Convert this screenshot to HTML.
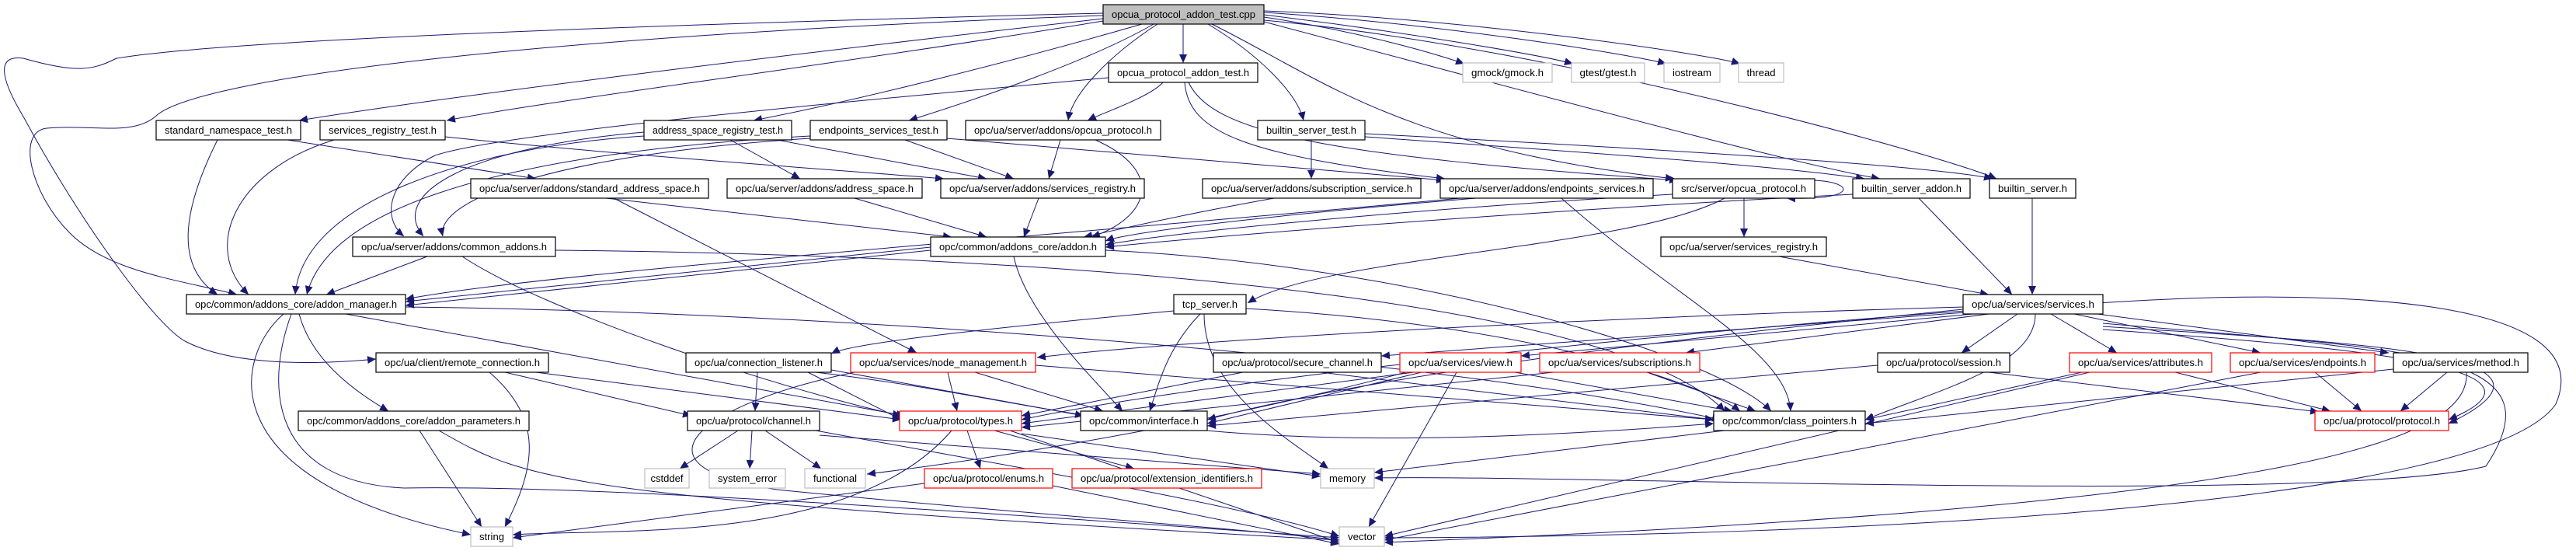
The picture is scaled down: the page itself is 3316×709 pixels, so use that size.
<!DOCTYPE html>
<html><head><meta charset="utf-8"><style>
html,body{margin:0;padding:0;background:#fff;}
svg{display:block}
text{font-family:"Liberation Sans",sans-serif;font-size:13px;fill:#000}
</style></head><body>
<svg width="3316" height="709" viewBox="0 0 3316 709" xmlns="http://www.w3.org/2000/svg">
<defs>
<marker id="a" markerUnits="userSpaceOnUse" markerWidth="12" markerHeight="10" refX="11" refY="5" orient="auto">
<path d="M0,0 L11,5 L0,10 z" fill="#191970"/>
</marker>
</defs>
<g fill="none" stroke="#191970" stroke-width="1" marker-end="url(#a)">
<path d="M1523,31 L1523,81"/>
<path d="M1627,22 C1750,40 1850,70 1885,82"/>
<path d="M1627,19 C1800,40 1980,70 2025,82"/>
<path d="M1627,16 C1850,30 2100,70 2145,82"/>
<path d="M1627,14 C1900,25 2200,70 2240,82"/>
<path d="M1627,28 C1900,100 2300,210 2420,230"/>
<path d="M1560,31 C1700,100 1800,190 2155,230"/>
<path d="M1555,31 C1620,70 1670,120 1678,155"/>
<path d="M1627,26 C2000,60 2500,200 2570,230"/>
<path d="M1490,31 C1430,70 1380,120 1375,155"/>
<path d="M1485,31 C1400,80 1250,130 1170,155"/>
<path d="M1470,31 C1300,80 1100,130 970,155"/>
<path d="M1420,27 C1100,80 700,130 575,155"/>
<path d="M1420,24 C1100,60 600,120 385,155"/>
<path d="M1420,17 C900,30 300,50 150,75 C120,90 100,95 30,75 C-5,70 0,100 30,150 C100,280 200,420 240,440 C300,470 400,470 484,462"/>
<path d="M1420,20 C700,45 250,100 200,150 C170,175 120,160 60,165 C20,170 40,250 90,300 C140,350 230,360 305,379"/>
<path d="M1497,106 C1480,125 1420,145 1400,155"/>
<path d="M1427,100 C1100,130 650,170 560,200 C500,230 490,280 520,304"/>
<path d="M1525,106 C1530,170 1600,200 1860,230"/>
<path d="M1530,106 C1560,170 1700,200 2160,232"/>
<path d="M280,180 C240,260 220,340 280,379"/>
<path d="M370,180 C500,200 620,220 690,230"/>
<path d="M430,180 C300,220 260,320 320,379"/>
<path d="M573,176 C800,200 1100,220 1215,230"/>
<path d="M940,180 L1030,230"/>
<path d="M1000,180 L1270,230"/>
<path d="M829,170 C600,190 500,250 545,304"/>
<path d="M829,175 C600,190 390,260 380,379"/>
<path d="M1165,180 L1305,230"/>
<path d="M1219,178 C1500,200 1700,220 1860,232"/>
<path d="M1043,175 C600,200 420,280 395,379"/>
<path d="M1043,178 C700,200 560,260 570,304"/>
<path d="M1365,180 L1350,230"/>
<path d="M1410,180 C1500,220 1480,280 1405,305"/>
<path d="M1688,180 L1688,230"/>
<path d="M1757,176 C2100,200 2300,215 2400,230"/>
<path d="M1757,172 C2200,195 2500,215 2565,230"/>
<path d="M780,255 L1225,305"/>
<path d="M790,255 L1180,454"/>
<path d="M1100,255 L1270,305"/>
<path d="M1337,255 L1318,305"/>
<path d="M1640,255 C1500,280 1420,300 1395,305"/>
<path d="M1900,255 C1600,280 1450,300 1423,310"/>
<path d="M2010,255 C2150,380 2300,450 2305,529"/>
<path d="M1880,255 C1400,300 700,350 522,385"/>
<path d="M2336,232 C2390,235 2390,258 2300,255"/>
<path d="M2245,255 L2245,305"/>
<path d="M2220,255 C2100,320 1700,330 1606,390"/>
<path d="M2153,250 C1800,270 1500,300 1423,315"/>
<path d="M2470,255 L2590,379"/>
<path d="M2385,250 C2000,270 1600,300 1423,318"/>
<path d="M2616,255 L2616,379"/>
<path d="M2290,330 L2560,379"/>
<path d="M1198,318 L522,388"/>
<path d="M1198,322 L522,393"/>
<path d="M1305,330 C1320,400 1400,480 1445,529"/>
<path d="M1423,322 C1800,340 2200,450 2280,529"/>
<path d="M550,330 L420,379"/>
<path d="M595,330 C700,400 1000,500 1160,535"/>
<path d="M715,322 C1500,330 2100,400 2220,529"/>
<path d="M385,404 C400,460 450,500 500,529"/>
<path d="M365,404 C300,460 270,620 606,688"/>
<path d="M375,404 C340,500 350,620 520,628 C700,625 1000,640 1724,692"/>
<path d="M445,404 L1165,535"/>
<path d="M522,395 C1000,400 1800,450 2215,540"/>
<path d="M650,479 L890,535"/>
<path d="M690,479 L1160,540"/>
<path d="M630,479 C700,540 690,600 650,678"/>
<path d="M540,554 L620,678"/>
<path d="M565,554 C680,620 720,640 1724,695"/>
<path d="M1511,400 C1300,420 1100,440 1070,455"/>
<path d="M1545,404 C1500,450 1490,500 1480,529"/>
<path d="M1604,397 C2000,420 2200,500 2240,529"/>
<path d="M1550,404 C1550,500 1650,560 1710,603"/>
<path d="M2527,395 C2000,410 1500,440 1335,460"/>
<path d="M2530,402 L1778,458"/>
<path d="M2540,404 L1958,458"/>
<path d="M2560,404 L2170,454"/>
<path d="M2597,404 L2525,454"/>
<path d="M2640,404 L2725,454"/>
<path d="M2670,404 L2910,454"/>
<path d="M2700,404 L3075,454"/>
<path d="M2707,420 C3000,440 3350,450 3152,545"/>
<path d="M2707,424 C3000,445 3320,470 3152,540"/>
<path d="M2620,404 C2620,470 2500,500 2401,540"/>
<path d="M2527,398 C2000,450 1700,500 1554,540"/>
<path d="M2707,416 C3100,450 3300,450 3200,600 C3000,650 2000,610 1769,615"/>
<path d="M2700,390 C3000,370 3350,380 3290,520 C3200,650 2400,690 1782,692"/>
<path d="M2530,400 C2000,440 1500,500 1315,540"/>
<path d="M975,479 L972,529"/>
<path d="M1040,479 L1160,540"/>
<path d="M1070,476 L1395,535"/>
<path d="M1050,479 C1400,520 1500,600 2206,545"/>
<path d="M1220,479 L1232,529"/>
<path d="M1255,479 L1420,529"/>
<path d="M1333,470 L2206,540"/>
<path d="M1100,479 C900,520 800,600 1000,630 C1300,660 1600,680 1724,695"/>
<path d="M950,554 L875,603"/>
<path d="M968,554 L965,603"/>
<path d="M985,554 L1057,603"/>
<path d="M1055,560 L1700,610"/>
<path d="M1050,554 C1300,600 1600,650 1724,690"/>
<path d="M1245,554 L1262,603"/>
<path d="M1280,554 L1460,603"/>
<path d="M1225,554 C1100,700 800,680 660,688"/>
<path d="M1315,558 L1700,613"/>
<path d="M1810,479 C1500,560 1200,600 1116,610"/>
<path d="M1300,554 L1724,698"/>
<path d="M1190,622 L660,692"/>
<path d="M1355,625 L1724,700"/>
<path d="M2220,554 L1769,608"/>
<path d="M1820,479 L1315,545"/>
<path d="M1830,479 L1554,545"/>
<path d="M1875,479 L1762,678"/>
<path d="M1950,479 L2230,529"/>
<path d="M2000,479 L1315,550"/>
<path d="M2120,479 L2260,529"/>
<path d="M1600,479 L1315,535"/>
<path d="M1700,479 L2206,540"/>
<path d="M2560,479 L2985,530"/>
<path d="M2417,470 L1554,548"/>
<path d="M2800,479 L3000,529"/>
<path d="M2680,479 L2401,540"/>
<path d="M2690,479 L1782,690"/>
<path d="M2980,479 L3040,529"/>
<path d="M2910,479 L1782,695"/>
<path d="M3150,479 L3090,529"/>
<path d="M3081,475 L2401,545"/>
<path d="M3175,479 C3180,560 3000,650 1782,698"/>
</g>
<g stroke-width="1.2" text-anchor="middle">
<!-- nodes: rect + text -->
<rect x="1420" y="6" width="207" height="25" fill="#bfbfbf" stroke="#000"/><text x="1523.5" y="23" textLength="185" lengthAdjust="spacingAndGlyphs">opcua_protocol_addon_test.cpp</text>
<rect x="1427" y="81" width="192" height="25" fill="#fff" stroke="#000"/><text x="1523" y="98" textLength="170" lengthAdjust="spacingAndGlyphs">opcua_protocol_addon_test.h</text>
<rect x="1883" y="81" width="115" height="25" fill="#fff" stroke="#bfbfbf"/><text x="1940.5" y="98" textLength="93" lengthAdjust="spacingAndGlyphs">gmock/gmock.h</text>
<rect x="2023" y="81" width="94" height="25" fill="#fff" stroke="#bfbfbf"/><text x="2070" y="98" textLength="73" lengthAdjust="spacingAndGlyphs">gtest/gtest.h</text>
<rect x="2142" y="81" width="72" height="25" fill="#fff" stroke="#bfbfbf"/><text x="2178" y="98" textLength="50" lengthAdjust="spacingAndGlyphs">iostream</text>
<rect x="2238" y="81" width="58" height="25" fill="#fff" stroke="#bfbfbf"/><text x="2267" y="98" textLength="37" lengthAdjust="spacingAndGlyphs">thread</text>
<rect x="201" y="155" width="186" height="25" fill="#fff" stroke="#000"/><text x="294" y="172" textLength="164" lengthAdjust="spacingAndGlyphs">standard_namespace_test.h</text>
<rect x="412" y="155" width="161" height="25" fill="#fff" stroke="#000"/><text x="492.5" y="172" textLength="139" lengthAdjust="spacingAndGlyphs">services_registry_test.h</text>
<rect x="829" y="155" width="190" height="25" fill="#fff" stroke="#000"/><text x="924" y="172" textLength="168" lengthAdjust="spacingAndGlyphs">address_space_registry_test.h</text>
<rect x="1043" y="155" width="176" height="25" fill="#fff" stroke="#000"/><text x="1131" y="172" textLength="154" lengthAdjust="spacingAndGlyphs">endpoints_services_test.h</text>
<rect x="1243" y="155" width="251" height="25" fill="#fff" stroke="#000"/><text x="1368.5" y="172" textLength="229" lengthAdjust="spacingAndGlyphs">opc/ua/server/addons/opcua_protocol.h</text>
<rect x="1619" y="155" width="138" height="25" fill="#fff" stroke="#000"/><text x="1688" y="172" textLength="116" lengthAdjust="spacingAndGlyphs">builtin_server_test.h</text>
<rect x="606" y="230" width="306" height="25" fill="#fff" stroke="#000"/><text x="759" y="247" textLength="284" lengthAdjust="spacingAndGlyphs">opc/ua/server/addons/standard_address_space.h</text>
<rect x="936" y="230" width="251" height="25" fill="#fff" stroke="#000"/><text x="1061.5" y="247" textLength="229" lengthAdjust="spacingAndGlyphs">opc/ua/server/addons/address_space.h</text>
<rect x="1211" y="230" width="262" height="25" fill="#fff" stroke="#000"/><text x="1342" y="247" textLength="240" lengthAdjust="spacingAndGlyphs">opc/ua/server/addons/services_registry.h</text>
<rect x="1548" y="230" width="281" height="25" fill="#fff" stroke="#000"/><text x="1688.5" y="247" textLength="259" lengthAdjust="spacingAndGlyphs">opc/ua/server/addons/subscription_service.h</text>
<rect x="1854" y="230" width="274" height="25" fill="#fff" stroke="#000"/><text x="1991" y="247" textLength="252" lengthAdjust="spacingAndGlyphs">opc/ua/server/addons/endpoints_services.h</text>
<rect x="2153" y="230" width="183" height="25" fill="#fff" stroke="#000"/><text x="2244.5" y="247" textLength="161" lengthAdjust="spacingAndGlyphs">src/server/opcua_protocol.h</text>
<rect x="2385" y="230" width="151" height="25" fill="#fff" stroke="#000"/><text x="2460.5" y="247" textLength="129" lengthAdjust="spacingAndGlyphs">builtin_server_addon.h</text>
<rect x="2561" y="230" width="111" height="25" fill="#fff" stroke="#000"/><text x="2616.5" y="247" textLength="89" lengthAdjust="spacingAndGlyphs">builtin_server.h</text>
<rect x="1198" y="305" width="225" height="25" fill="#fff" stroke="#000"/><text x="1310.5" y="322" textLength="203" lengthAdjust="spacingAndGlyphs">opc/common/addons_core/addon.h</text>
<rect x="454" y="305" width="261" height="25" fill="#fff" stroke="#000"/><text x="584.5" y="322" textLength="239" lengthAdjust="spacingAndGlyphs">opc/ua/server/addons/common_addons.h</text>
<rect x="2138" y="305" width="213" height="25" fill="#fff" stroke="#000"/><text x="2244.5" y="322" textLength="191" lengthAdjust="spacingAndGlyphs">opc/ua/server/services_registry.h</text>
<rect x="240" y="379" width="282" height="25" fill="#fff" stroke="#000"/><text x="381" y="396" textLength="260" lengthAdjust="spacingAndGlyphs">opc/common/addons_core/addon_manager.h</text>
<rect x="1511" y="379" width="93" height="25" fill="#fff" stroke="#000"/><text x="1557.5" y="396" textLength="71" lengthAdjust="spacingAndGlyphs">tcp_server.h</text>
<rect x="2527" y="379" width="180" height="25" fill="#fff" stroke="#000"/><text x="2617" y="396" textLength="158" lengthAdjust="spacingAndGlyphs">opc/ua/services/services.h</text>
<rect x="484" y="454" width="222" height="25" fill="#fff" stroke="#000"/><text x="595" y="471" textLength="200" lengthAdjust="spacingAndGlyphs">opc/ua/client/remote_connection.h</text>
<rect x="883" y="454" width="187" height="25" fill="#fff" stroke="#000"/><text x="976.5" y="471" textLength="165" lengthAdjust="spacingAndGlyphs">opc/ua/connection_listener.h</text>
<rect x="1095" y="454" width="238" height="25" fill="#fff" stroke="#f00"/><text x="1214" y="471" textLength="216" lengthAdjust="spacingAndGlyphs">opc/ua/services/node_management.h</text>
<rect x="1562" y="454" width="216" height="25" fill="#fff" stroke="#000"/><text x="1670" y="471" textLength="194" lengthAdjust="spacingAndGlyphs">opc/ua/protocol/secure_channel.h</text>
<rect x="1802" y="454" width="156" height="25" fill="#fff" stroke="#f00"/><text x="1880" y="471" textLength="134" lengthAdjust="spacingAndGlyphs">opc/ua/services/view.h</text>
<rect x="1982" y="454" width="206" height="25" fill="#fff" stroke="#f00"/><text x="2085" y="471" textLength="184" lengthAdjust="spacingAndGlyphs">opc/ua/services/subscriptions.h</text>
<rect x="2417" y="454" width="170" height="25" fill="#fff" stroke="#000"/><text x="2502" y="471" textLength="148" lengthAdjust="spacingAndGlyphs">opc/ua/protocol/session.h</text>
<rect x="2664" y="454" width="183" height="25" fill="#fff" stroke="#f00"/><text x="2755.5" y="471" textLength="161" lengthAdjust="spacingAndGlyphs">opc/ua/services/attributes.h</text>
<rect x="2871" y="454" width="186" height="25" fill="#fff" stroke="#f00"/><text x="2964" y="471" textLength="164" lengthAdjust="spacingAndGlyphs">opc/ua/services/endpoints.h</text>
<rect x="3081" y="454" width="173" height="25" fill="#fff" stroke="#000"/><text x="3167.5" y="471" textLength="151" lengthAdjust="spacingAndGlyphs">opc/ua/services/method.h</text>
<rect x="384" y="529" width="297" height="25" fill="#fff" stroke="#000"/><text x="532.5" y="546" textLength="275" lengthAdjust="spacingAndGlyphs">opc/common/addons_core/addon_parameters.h</text>
<rect x="885" y="529" width="170" height="25" fill="#fff" stroke="#000"/><text x="970" y="546" textLength="148" lengthAdjust="spacingAndGlyphs">opc/ua/protocol/channel.h</text>
<rect x="1158" y="529" width="157" height="25" fill="#fff" stroke="#f00"/><text x="1236.5" y="546" textLength="135" lengthAdjust="spacingAndGlyphs">opc/ua/protocol/types.h</text>
<rect x="1391" y="529" width="163" height="25" fill="#fff" stroke="#000"/><text x="1472.5" y="546" textLength="141" lengthAdjust="spacingAndGlyphs">opc/common/interface.h</text>
<rect x="2206" y="529" width="195" height="25" fill="#fff" stroke="#000"/><text x="2303.5" y="546" textLength="173" lengthAdjust="spacingAndGlyphs">opc/common/class_pointers.h</text>
<rect x="2980" y="529" width="172" height="25" fill="#fff" stroke="#f00"/><text x="3066" y="546" textLength="150" lengthAdjust="spacingAndGlyphs">opc/ua/protocol/protocol.h</text>
<rect x="830" y="603" width="57" height="25" fill="#fff" stroke="#bfbfbf"/><text x="858.5" y="620" textLength="42" lengthAdjust="spacingAndGlyphs">cstddef</text>
<rect x="913" y="603" width="98" height="25" fill="#fff" stroke="#bfbfbf"/><text x="962" y="620" textLength="76" lengthAdjust="spacingAndGlyphs">system_error</text>
<rect x="1036" y="603" width="78" height="25" fill="#fff" stroke="#bfbfbf"/><text x="1075" y="620" textLength="56" lengthAdjust="spacingAndGlyphs">functional</text>
<rect x="1190" y="603" width="165" height="25" fill="#fff" stroke="#f00"/><text x="1272.5" y="620" textLength="143" lengthAdjust="spacingAndGlyphs">opc/ua/protocol/enums.h</text>
<rect x="1380" y="603" width="244" height="25" fill="#fff" stroke="#f00"/><text x="1502" y="620" textLength="222" lengthAdjust="spacingAndGlyphs">opc/ua/protocol/extension_identifiers.h</text>
<rect x="1700" y="603" width="69" height="25" fill="#fff" stroke="#bfbfbf"/><text x="1734.5" y="620" textLength="47" lengthAdjust="spacingAndGlyphs">memory</text>
<rect x="606" y="678" width="54" height="25" fill="#fff" stroke="#bfbfbf"/><text x="633" y="695" textLength="32" lengthAdjust="spacingAndGlyphs">string</text>
<rect x="1724" y="678" width="58" height="25" fill="#fff" stroke="#bfbfbf"/><text x="1753" y="695" textLength="36" lengthAdjust="spacingAndGlyphs">vector</text>
</g>
</svg>
</body></html>
